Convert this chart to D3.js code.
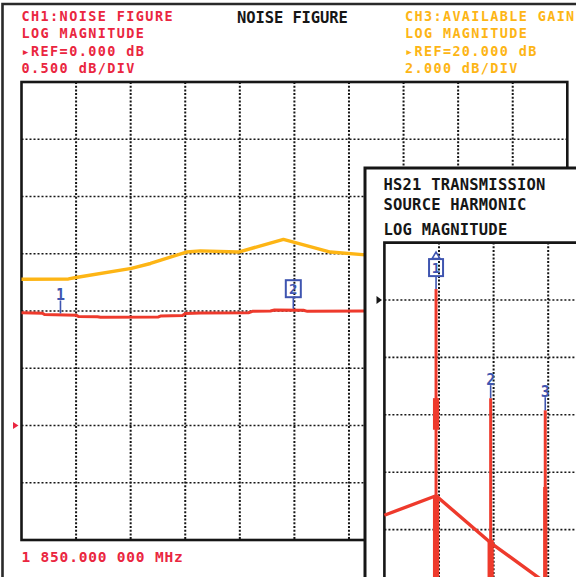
<!DOCTYPE html>
<html>
<head>
<meta charset="utf-8">
<script src="https://cdn.jsdelivr.net/npm/d3@7"></script>
<style>
  html, body { margin: 0; padding: 0; background: #fff; overflow: hidden; }
  svg { display: block; }
</style>
</head>
<body>
<svg id="screen" width="576" height="577"></svg>
<script>
// ---- CH1: noise figure (dB) versus sweep position (graticule divisions) ----
const nfPos = [0, 0.385, 0.421, 1.007, 1.044, 1.392, 1.447, 2.509, 2.546, 2.949, 3.004, 3.278, 4.158, 4.231, 4.560, 4.634, 5.165, 5.238, 6.30];
const nfDb  = [0.985, 0.980, 0.969, 0.962, 0.952, 0.949, 0.945, 0.948, 0.956, 0.961, 0.978, 0.983, 0.985, 0.997, 1.000, 1.009, 1.006, 0.997, 1.000];
const nfRef = 0.0, nfPerDiv = 0.5;

// ---- CH3: available gain (dB) ----
const gainPos = [0, 0.861, 1.026, 2.015, 2.363, 3.022, 3.278, 3.974, 4.799, 5.659, 6.30];
const gainDb  = [21.11, 21.12, 21.18, 21.49, 21.66, 22.06, 22.10, 22.06, 22.50, 22.06, 21.96];
const gainRef = 20.0, gainPerDiv = 2.0;

// markers on the noise-figure trace
const nfMarkerNum = [1, 2];
const nfMarkerPos = [0.714, 4.98];

// ---- HS21 transmission, source harmonics (dB versus MHz) ----
const harmOrder = [1, 2, 3];
const harmFreq  = [1850, 3700, 5550];
const harmTopDb = [1.9, -17.1, -19.2];
// swept skirt under the harmonics
const skirtFreq = [100, 1850, 3700, 6590];
const skirtDb   = [-37.5, -34.1, -42.3, -53.1];
// broadened segments of each harmonic line: [order, upper dB, lower dB]
const harmBands = [[1, -17.1, -22.6], [1, -34.0, -80], [2, -41.8, -80], [3, -32.6, -80]];

// header texts
const ch1Lines = ["CH1:NOISE FIGURE", "LOG MAGNITUDE", "\u25B8REF=0.000 dB", "0.500 dB/DIV"];
const ch3Lines = ["CH3:AVAILABLE GAIN", "LOG MAGNITUDE", "\u25B8REF=20.000 dB", "2.000 dB/DIV"];
const titleText = "NOISE FIGURE";
const cwText = "1 850.000 000 MHz";
const insetLines = ["HS21 TRANSMISSION", "SOURCE HARMONIC", "LOG MAGNITUDE"];

const RED_TXT = "#ea2640", RED = "#ee3a2c", YEL = "#fdb515", BLUE = "#3f55b0", INK = "#161616";
const MONO = "'DejaVu Sans Mono', 'Liberation Mono', monospace";

const svg = d3.select("#screen");

// ---------------- main graticule ----------------
const G = { left: 21.5, right: 567.3, top: 82, bottom: 540, nx: 10, ny: 8 };
const x = d3.scaleLinear().domain([0, G.nx]).range([G.left, G.right]);
const yNF = d3.scaleLinear().domain([nfRef - 2 * nfPerDiv, nfRef + 6 * nfPerDiv]).range([G.bottom, G.top]);
const yGain = d3.scaleLinear().domain([gainRef - 4 * gainPerDiv, gainRef + 4 * gainPerDiv]).range([G.bottom, G.top]);
const yDiv = d3.scaleLinear().domain([0, G.ny]).range([G.bottom, G.top]);

// outer instrument frame
svg.append("path")
  .attr("d", `M2.5,577 V4 H576`)
  .attr("fill", "none").attr("stroke", "#2a2a2a").attr("stroke-width", 2.6);

const grid = svg.append("g");
grid.selectAll("line.v").data(d3.range(1, G.nx)).join("line")
  .attr("x1", d => x(d)).attr("x2", d => x(d))
  .attr("y1", G.top).attr("y2", G.bottom)
  .attr("stroke", INK).attr("stroke-width", 2).attr("stroke-dasharray", "2,1.7");
grid.selectAll("line.h").data(d3.range(1, G.ny)).join("line")
  .attr("x1", G.left).attr("x2", G.right)
  .attr("y1", d => yDiv(d)).attr("y2", d => yDiv(d))
  .attr("stroke", INK).attr("stroke-width", 1.6).attr("stroke-dasharray", "2,2");
grid.append("rect")
  .attr("x", G.left).attr("y", G.top)
  .attr("width", G.right - G.left).attr("height", G.bottom - G.top)
  .attr("fill", "none").attr("stroke", INK).attr("stroke-width", 2.6);

// reference marker for CH1
svg.append("path")
  .attr("d", d3.line()([[13, yNF(nfRef) - 3.5], [18.5, yNF(nfRef)], [13, yNF(nfRef) + 3.5]]) + "Z")
  .attr("fill", RED_TXT);

// traces
const nfPts = nfPos.map((p, i) => [p, nfDb[i]]);
const gainPts = gainPos.map((p, i) => [p, gainDb[i]]);
svg.append("path")
  .attr("d", d3.line().x(d => x(d[0])).y(d => yGain(d[1]))(gainPts))
  .attr("fill", "none").attr("stroke", YEL).attr("stroke-width", 3.4).attr("stroke-linejoin", "round");
svg.append("path")
  .attr("d", d3.line().x(d => x(d[0])).y(d => yNF(d[1]))(nfPts))
  .attr("fill", "none").attr("stroke", RED).attr("stroke-width", 3).attr("stroke-linejoin", "round");

// markers: value on the trace at the marker position
function traceAt(pos, xs, ys) {
  const i = Math.max(1, d3.bisectLeft(xs, pos));
  const t = (pos - xs[i - 1]) / (xs[i] - xs[i - 1]);
  return ys[i - 1] + t * (ys[i] - ys[i - 1]);
}
nfMarkerNum.forEach((n, k) => {
  const mx = x(nfMarkerPos[k]);
  const my = yNF(traceAt(nfMarkerPos[k], nfPos, nfDb)) - 1.5;
  const g = svg.append("g");
  if (n === 2) {
    // active marker: boxed number
    g.append("rect").attr("x", mx - 7.5).attr("y", my - 28.5).attr("width", 15).attr("height", 17)
      .attr("fill", "none").attr("stroke", BLUE).attr("stroke-width", 2);
    g.append("text").attr("x", mx).attr("y", my - 14.5).attr("text-anchor", "middle")
      .attr("font-family", MONO).attr("font-weight", "bold").attr("font-size", 14)
      .attr("fill", BLUE).text(n);
    g.append("line").attr("x1", mx).attr("x2", mx).attr("y1", my - 11.5).attr("y2", my)
      .attr("stroke", BLUE).attr("stroke-width", 1.6);
  } else {
    g.append("text").attr("x", mx).attr("y", my - 13).attr("text-anchor", "middle")
      .attr("font-family", MONO).attr("font-weight", "bold").attr("font-size", 15)
      .attr("fill", BLUE).text(n);
    g.append("line").attr("x1", mx).attr("x2", mx).attr("y1", my - 13).attr("y2", my)
      .attr("stroke", BLUE).attr("stroke-width", 1.6);
  }
});

// ---------------- inset: source harmonic display ----------------
const I = { left: 384.4, top: 242.6, dx: 54.6, dy: 57.4, nx: 10, ny: 8 };
const xi = d3.scaleLinear().domain([100, 18600]).range([I.left, I.left + I.nx * I.dx]);
const yi = d3.scaleLinear().domain([10, -70]).range([I.top, I.top + I.ny * I.dy]);

svg.append("rect").attr("x", 365).attr("y", 168).attr("width", 240).attr("height", 440)
  .attr("fill", "#fff").attr("stroke", INK).attr("stroke-width", 3);

const ig = svg.append("g");
ig.selectAll("line.v").data(d3.range(1, 5)).join("line")
  .attr("x1", d => I.left + d * I.dx).attr("x2", d => I.left + d * I.dx)
  .attr("y1", I.top).attr("y2", 600)
  .attr("stroke", INK).attr("stroke-width", 2).attr("stroke-dasharray", "2,1.7");
ig.selectAll("line.h").data(d3.range(1, 7)).join("line")
  .attr("x1", I.left).attr("x2", 600)
  .attr("y1", d => I.top + d * I.dy).attr("y2", d => I.top + d * I.dy)
  .attr("stroke", INK).attr("stroke-width", 1.6).attr("stroke-dasharray", "2,2");
ig.append("path").attr("d", `M${I.left},600 V${I.top} H600`)
  .attr("fill", "none").attr("stroke", INK).attr("stroke-width", 2.6);

// inset reference marker (0 dB)
svg.append("path")
  .attr("d", d3.line()([[376.5, yi(0) - 4], [382, yi(0)], [376.5, yi(0) + 4]]) + "Z")
  .attr("fill", INK);

// harmonic lines, skirt, broadened parts
const it = svg.append("g");
it.selectAll("line.h").data(harmOrder).join("line")
  .attr("x1", (d, i) => xi(harmFreq[i])).attr("x2", (d, i) => xi(harmFreq[i]))
  .attr("y1", (d, i) => yi(harmTopDb[i])).attr("y2", yi(-80))
  .attr("stroke", RED).attr("stroke-width", 3);
it.selectAll("line.b").data(harmBands).join("line")
  .attr("x1", d => xi(harmFreq[d[0] - 1])).attr("x2", d => xi(harmFreq[d[0] - 1]))
  .attr("y1", d => yi(d[1])).attr("y2", d => yi(d[2]))
  .attr("stroke", RED).attr("stroke-width", d => d[0] === 3 ? 4.2 : 6.2);
it.append("path")
  .attr("d", d3.line().x(d => xi(d[0])).y(d => yi(d[1]))(skirtFreq.map((f, i) => [f, skirtDb[i]])))
  .attr("fill", "none").attr("stroke", RED).attr("stroke-width", 3.4).attr("stroke-linejoin", "round");

// harmonic markers
harmOrder.forEach((n, i) => {
  const mx = xi(harmFreq[i]);
  const my = yi(harmTopDb[i]);
  const g = svg.append("g");
  if (n === 1) {
    g.append("path").attr("d", `M${mx},${my - 37} L${mx + 4},${my - 30.5} L${mx - 4},${my - 30.5}Z`)
      .attr("fill", "none").attr("stroke", BLUE).attr("stroke-width", 1.6);
    g.append("rect").attr("x", mx - 7).attr("y", my - 30).attr("width", 14).attr("height", 17)
      .attr("fill", "none").attr("stroke", BLUE).attr("stroke-width", 2);
    g.append("text").attr("x", mx).attr("y", my - 16).attr("text-anchor", "middle")
      .attr("font-family", MONO).attr("font-weight", "bold").attr("font-size", 14)
      .attr("fill", BLUE).text(n);
    g.append("line").attr("x1", mx).attr("x2", mx).attr("y1", my - 13).attr("y2", my)
      .attr("stroke", BLUE).attr("stroke-width", 1.6);
  } else {
    g.append("text").attr("x", mx).attr("y", my - 13).attr("text-anchor", "middle")
      .attr("font-family", MONO).attr("font-weight", "bold").attr("font-size", 15)
      .attr("fill", BLUE).text(n);
    g.append("line").attr("x1", mx).attr("x2", mx).attr("y1", my - 13).attr("y2", my)
      .attr("stroke", BLUE).attr("stroke-width", 1.6);
  }
});

// ---------------- annotation text ----------------
const hdrBase = [21, 38.3, 55.6, 73];
function textBlock(lines, x0, color, size, spacing, bases) {
  svg.append("g").selectAll("text").data(lines).join("text")
    .attr("x", x0).attr("y", (d, i) => bases[i])
    .attr("font-family", MONO).attr("font-weight", "bold")
    .attr("font-size", size).attr("letter-spacing", spacing)
    .attr("fill", color).text(d => d);
}
textBlock(ch1Lines, 21.5, RED_TXT, 13.5, 1.4, hdrBase);
textBlock(ch3Lines, 405, YEL, 13.5, 1.35, hdrBase);
textBlock([titleText], 237, INK, 15.5, -0.1, [23]);
textBlock([cwText], 21.5, RED_TXT, 14.5, 0.8, [561.5]);
textBlock(insetLines, 383.5, INK, 15.5, 0.2, [190, 210, 235]);
</script>
</body>
</html>
